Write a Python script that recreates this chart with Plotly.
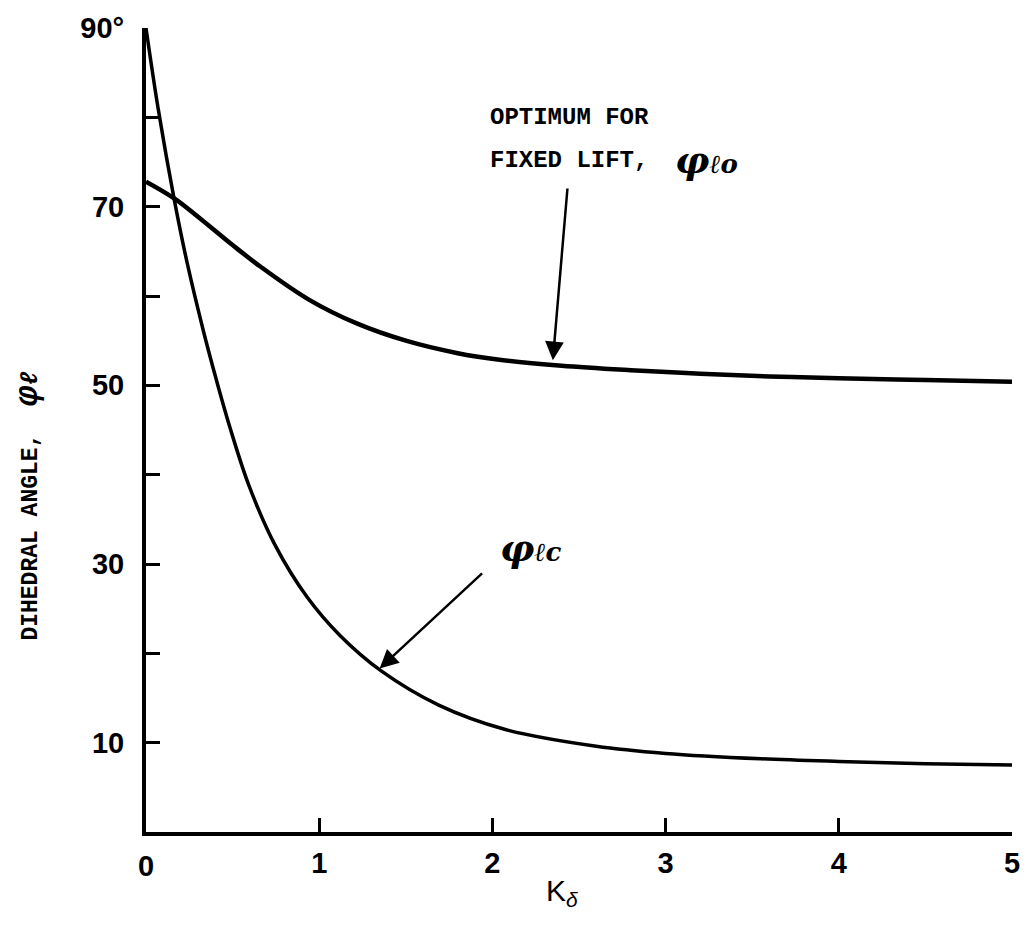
import plotly.graph_objects as go

# K_delta values and dihedral angles (degrees)
k_fixed_lift = [0, 0.165, 0.33, 0.5, 0.66, 0.94, 1.22, 1.5, 1.8, 2.03, 2.4, 2.8, 3.2, 3.6, 4.0, 4.5, 5.0]
phi_lo = [72.8, 70.9, 68.4, 65.7, 63.3, 59.6, 56.9, 55.0, 53.6, 52.9, 52.2, 51.7, 51.3, 51.0, 50.8, 50.6, 50.4]

k_c = [0, 0.07, 0.165, 0.24, 0.33, 0.405, 0.486, 0.594, 0.743, 0.93, 1.12, 1.36, 1.69, 2.07, 2.6, 3.0, 3.55, 4.0, 4.5, 5.0]
phi_lc = [90, 81, 70.6, 63.5, 56.2, 50.7, 45.2, 38.8, 32.2, 26.3, 22.0, 18.0, 14.2, 11.5, 9.6, 8.8, 8.2, 7.9, 7.65, 7.5]

y_tick_vals = [10, 20, 30, 40, 50, 60, 70, 80, 90]
y_tick_text = ["10", "", "30", "", "50", "", "70", "", "90°"]
x_tick_vals = [1, 2, 3, 4, 5]
x_tick_text = ["1", "2", "3", "4", "5"]

fig = go.Figure()
fig.add_trace(go.Scatter(x=k_fixed_lift, y=phi_lo, mode="lines",
                         line=dict(color="black", width=4.5, shape="spline", smoothing=1.0),
                         hoverinfo="skip", showlegend=False))
fig.add_trace(go.Scatter(x=k_c, y=phi_lc, mode="lines",
                         line=dict(color="black", width=3.5, shape="spline", smoothing=1.0),
                         hoverinfo="skip", showlegend=False))

tick_font = dict(family="Liberation Sans", size=29, color="black", weight="bold")
mono = dict(family="Liberation Mono", size=24, color="black", weight="bold")
script = dict(family="DejaVu Serif", size=38, color="black")

fig.update_xaxes(range=[0, 5], showline=True, linecolor="black", linewidth=4,
                 ticks="inside", ticklen=14, tickwidth=3, tickcolor="black",
                 tickvals=x_tick_vals, ticktext=x_tick_text,
                 showgrid=False, zeroline=False, tickfont=tick_font, ticklabelstandoff=2)
fig.update_yaxes(range=[0, 90], showline=True, linecolor="black", linewidth=4,
                 ticks="inside", ticklen=14, tickwidth=3, tickcolor="black",
                 tickvals=y_tick_vals, ticktext=y_tick_text,
                 showgrid=False, zeroline=False, tickfont=tick_font, ticklabelstandoff=12)

# x = 0 label (no tick drawn there)
fig.add_annotation(x=0, y=0, xref="x", yref="y", text="0", showarrow=False,
                   font=tick_font, yanchor="top", yshift=-16)

annotations = [
    dict(x=1.977, y=80.0, text="OPTIMUM FOR", xanchor="left", yanchor="middle", font=mono),
    dict(x=1.977, y=75.2, text="FIXED LIFT,", xanchor="left", yanchor="middle", font=mono),
    dict(x=3.04, y=75.3, text="<b><i>φ<span style='font-size:26px'>ℓo</span></i></b>",
         xanchor="left", yanchor="middle", font=script),
    dict(x=2.03, y=31.8, text="<b><i>φ<span style='font-size:26px'>ℓc</span></i></b>",
         xanchor="left", yanchor="middle", font=script),
]
for a in annotations:
    fig.add_annotation(xref="x", yref="y", showarrow=False, **a)

# arrows
fig.add_annotation(x=2.349, y=52.8, ax=2.434, ay=72.2, xref="x", yref="y", axref="x", ayref="y",
                   text="", showarrow=True, arrowhead=2, arrowsize=1.5, arrowwidth=2.5, arrowcolor="black")
fig.add_annotation(x=1.349, y=18.3, ax=1.949, ay=29.1, xref="x", yref="y", axref="x", ayref="y",
                   text="", showarrow=True, arrowhead=2, arrowsize=1.5, arrowwidth=2.5, arrowcolor="black")

# axis titles
fig.add_annotation(x=2.40, y=-0.075, xref="x", yref="paper", text="K<sub><i>δ</i></sub>",
                   showarrow=False, yanchor="middle",
                   font=dict(family="Liberation Sans", size=30, color="black"))
fig.add_annotation(x=-0.136, y=0.405, xref="paper", yref="paper",
                   text="DIHEDRAL ANGLE,  <b><i><span style='font-size:34px'>φ<span style='font-size:24px'>ℓ</span></span></i></b>",
                   textangle=-90, showarrow=False, xanchor="center", yanchor="middle",
                   font=dict(family="Liberation Mono", size=23, color="black", weight="bold"))

fig.update_layout(width=1032, height=925, margin=dict(l=146, r=12, t=22, b=93),
                  plot_bgcolor="white", paper_bgcolor="white")

fig.write_html("out.html")
